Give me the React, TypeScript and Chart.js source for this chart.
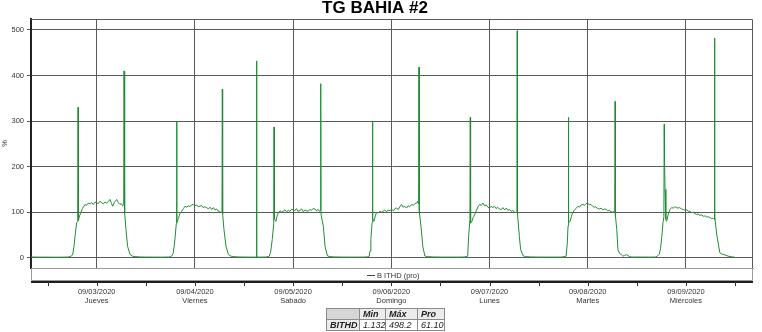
import React, { useEffect, useRef } from 'react';
import { Chart, registerables } from 'chart.js';

Chart.register(...registerables);

const TITLE = 'TG BAHIA #2';
const SERIES_LABEL = 'B ITHD (pro)';
const Y_TITLE = '%';

// x values are hours from 09/03/2020 00:00
const tickHours = [0, 24, 48, 72, 96, 120, 144];
const minorTickHours = [-12, 12, 36, 60, 84, 108, 132, 156];
const tickDates = ['09/03/2020', '09/04/2020', '09/05/2020', '09/06/2020', '09/07/2020', '09/08/2020', '09/09/2020'];
const tickDays = ['Jueves', 'Viernes', 'Sabado', 'Domingo', 'Lunes', 'Martes', 'Miércoles'];
const X_MIN = -16.06;
const X_MAX = 160.4;
const Y_MIN = -22.5;
const Y_MAX = 524;
const Y_STEP = 100;

const night1: [number, number][] = [
  [-16.06, 1.6], [-14.0, 1.4], [-12.0, 1.3], [-10.0, 1.132], [-8.0, 1.3], [-7.0, 1.6], [-6.5, 2.5], [-6.1, 4.5],
  [-5.85, 8], [-5.55, 25], [-5.3, 47], [-4.9, 77], [-4.63, 80], [-4.55, 330], [-4.47, 82], [-4.2, 92], [-3.9, 98],
  [-3.5, 108], [-2.86, 117], [-2.5, 115], [-2.05, 120], [-1.6, 118], [-1.2, 121], [-0.83, 117], [-0.4, 122],
  [0.0, 120], [0.4, 119], [0.8, 124], [1.2, 121], [1.6, 118], [2.0, 122], [2.44, 120], [2.8, 123],
  [3.25, 128], [3.6, 119], [3.91, 113], [4.3, 121], [4.6, 125], [4.89, 128], [5.3, 121], [5.7, 117],
  [6.0, 119], [6.35, 114], [6.6, 116], [6.68, 410], [6.76, 100], [6.9, 99], [7.15, 62], [7.55, 25], [8.15, 7],
  [8.7, 3.5], [9.4, 2.5], [10.5, 1.8], [12, 1.5], [14, 1.4], [16, 1.3],
];

const night2: [number, number][] = [
  [17.5, 1.5], [18.0, 2.2], [18.4, 4.5], [18.65, 9], [18.95, 26], [19.2, 48], [19.45, 75], [19.53, 300],
  [19.61, 77], [19.95, 86], [20.3, 96], [20.77, 102], [21.2, 108], [21.58, 113], [22.0, 111], [22.4, 114],
  [22.8, 112], [23.2, 116], [23.6, 117], [24.0, 114], [24.4, 116], [24.8, 112], [25.25, 113], [25.6, 115],
  [26.0, 110], [26.4, 112], [26.88, 110], [27.3, 107], [27.7, 111], [28.1, 106], [28.5, 110], [28.9, 105],
  [29.3, 107], [29.6, 103], [29.96, 102], [30.3, 100], [30.62, 99], [30.7, 370], [30.78, 96], [31.1, 62],
  [31.6, 25], [32.2, 7], [32.8, 3.5], [33.5, 2.4], [34.5, 1.8], [36, 1.5], [38, 1.4],
];

const night3: [number, number][] = [
  [38.95, 1.5], [39.05, 432], [39.15, 1.5], [40.0, 1.4], [41.0, 1.5], [41.6, 2.0], [42.18, 3.5], [42.5, 12],
  [42.9, 40], [43.27, 75], [43.35, 287], [43.43, 85], [43.8, 80], [44.1, 92], [44.4, 98], [44.8, 103],
  [45.2, 100], [45.6, 102], [46.0, 105], [46.4, 101], [46.8, 104], [47.2, 102], [47.6, 106], [48.0, 106],
  [48.4, 103], [48.8, 108], [49.2, 102], [49.7, 104], [50.1, 107], [50.5, 101], [50.9, 105], [51.3, 103],
  [51.7, 102], [52.1, 106], [52.5, 104], [52.9, 108], [53.35, 107], [53.7, 103], [54.1, 106], [54.4, 102],
  [54.67, 104], [54.75, 382], [54.83, 95], [55.4, 69], [55.8, 25], [56.4, 4], [57.0, 2.5], [58, 1.8],
  [60, 1.5], [62, 1.4],
];

const night4: [number, number][] = [
  [64, 1.4], [65.5, 1.5], [66.2, 2.2], [66.6, 3.5], [66.8, 15], [67.0, 40], [67.2, 65], [67.32, 77],
  [67.4, 298], [67.48, 85], [67.77, 80], [68.1, 92], [68.4, 100], [68.8, 98], [69.2, 102], [69.6, 100],
  [70.0, 102], [70.4, 105], [70.8, 101], [71.2, 104], [71.7, 104], [72.1, 106], [72.5, 103], [72.9, 108],
  [73.3, 109], [73.7, 106], [74.1, 112], [74.5, 117], [74.9, 111], [75.3, 113], [75.7, 109], [76.1, 114],
  [76.5, 112], [77.0, 117], [77.4, 115], [77.8, 119], [78.2, 120], [78.45, 124], [78.69, 118], [78.77, 418],
  [78.85, 100], [79.26, 69], [79.7, 25], [80.2, 4], [80.8, 2.5], [82, 1.8], [84, 1.5], [86, 1.4],
];

const night5: [number, number][] = [
  [88, 1.4], [89.5, 1.5], [90.2, 2.2], [90.67, 3.5], [90.9, 47], [91.22, 84], [91.3, 308], [91.38, 76],
  [91.7, 80], [92.0, 88], [92.4, 95], [92.8, 104], [93.2, 112], [93.6, 117], [94.0, 115], [94.4, 120],
  [94.8, 114], [95.2, 116], [95.6, 111], [96.0, 109], [96.4, 113], [96.8, 110], [97.2, 113], [97.6, 108],
  [98.0, 111], [98.4, 107], [98.9, 106], [99.3, 110], [99.7, 105], [100.1, 109], [100.5, 104], [100.9, 106],
  [101.3, 102], [101.7, 104], [102.0, 100], [102.3, 99], [102.69, 101], [102.77, 498.2], [102.85, 95], [103.3, 47],
  [103.6, 18], [104.26, 4], [104.8, 2.5], [106, 1.8], [108, 1.5], [110, 1.4],
];

const night6: [number, number][] = [
  [112, 1.4], [113.5, 1.5], [114.2, 2.2], [114.7, 3.5], [115.0, 30], [115.2, 70], [115.28, 308], [115.36, 78],
  [115.7, 80], [116.0, 90], [116.3, 99], [116.7, 104], [117.1, 108], [117.6, 113], [118.0, 111], [118.4, 116],
  [118.8, 117], [119.2, 115], [119.6, 119], [120.0, 120], [120.4, 116], [120.8, 117], [121.2, 113], [121.6, 111],
  [122.0, 112], [122.4, 108], [122.9, 107], [123.3, 109], [123.7, 105], [124.1, 107], [124.5, 106], [124.9, 103],
  [125.3, 104], [125.7, 101], [126.1, 100], [126.62, 102], [126.7, 343], [126.78, 92], [127.1, 62], [127.4, 18],
  [127.8, 9], [128.2, 7], [128.6, 3.5], [129.0, 5], [129.5, 7], [130.3, 2], [131, 1.6], [133, 1.5],
  [135, 1.4],
];

const night7: [number, number][] = [
  [136.5, 1.5], [137.0, 3.5], [137.5, 8], [137.8, 20], [138.1, 45], [138.4, 77], [138.62, 90], [138.7, 293],
  [138.78, 210], [138.9, 150], [139.1, 84], [139.3, 80], [139.6, 92], [140.1, 106], [140.5, 110], [140.9, 109],
  [141.3, 112], [141.7, 110], [142.1, 109], [142.5, 110], [142.9, 107], [143.4, 106], [143.8, 104], [144.2, 105],
  [144.6, 102], [145.0, 102], [145.4, 99], [145.8, 100], [146.2, 97], [146.6, 95], [147.0, 96], [147.4, 93],
  [147.8, 94], [148.3, 91], [148.7, 92], [149.1, 89], [149.5, 90], [149.9, 88], [150.3, 86], [150.6, 87],
  [150.92, 84], [151.0, 482], [151.08, 90], [151.6, 47], [152.3, 11], [152.8, 8], [153.3, 7], [154.3, 3.5],
  [155.2, 2], [155.9, 1.3],
];

const tableHead = ['Min', 'Máx', 'Pro'];
const tableRowName = 'BITHD';
const tableValues = ['1.132', '498.2', '61.10'];

const FONT = "'Liberation Sans', Arial, sans-serif";
const LINE_COLOR = 'rgb(34,140,52)';
const GRID_COLOR = '#5a5a5a';

const decorPlugin = {
  id: 'decor',
  afterDraw(chart: any) {
    const ctx = chart.ctx;
    const ca = chart.chartArea;
    const xs = chart.scales.x;
    ctx.save();
    // plot frame top and right
    ctx.strokeStyle = GRID_COLOR;
    ctx.lineWidth = 1;
    ctx.beginPath();
    ctx.moveTo(ca.left, ca.top + 0.5);
    ctx.lineTo(ca.right - 0.5, ca.top + 0.5);
    ctx.lineTo(ca.right - 0.5, ca.bottom);
    ctx.stroke();
    // legend band
    const bandTop = ca.bottom;
    const bandBottom = ca.bottom + 12;
    ctx.strokeStyle = '#9a9a9a';
    ctx.beginPath();
    ctx.moveTo(ca.left + 0.5, bandTop);
    ctx.lineTo(ca.left + 0.5, bandBottom + 0.5);
    ctx.lineTo(ca.right - 0.5, bandBottom + 0.5);
    ctx.lineTo(ca.right - 0.5, bandTop);
    ctx.stroke();
    // legend item
    const ly = bandTop + 7;
    ctx.font = `7.5px ${FONT}`;
    const lx = 367;
    ctx.strokeStyle = '#444';
    ctx.beginPath();
    ctx.moveTo(lx, ly + 0.5);
    ctx.lineTo(lx + 8, ly + 0.5);
    ctx.stroke();
    ctx.fillStyle = '#333';
    ctx.textBaseline = 'middle';
    ctx.textAlign = 'left';
    ctx.fillText(SERIES_LABEL, lx + 10, ly + 0.5);
    // thick axis line
    const axisY = bandBottom + 2;
    ctx.strokeStyle = '#1e1e1e';
    ctx.lineWidth = 2;
    ctx.beginPath();
    ctx.moveTo(ca.left, axisY);
    ctx.lineTo(ca.right, axisY);
    ctx.stroke();
    // tick marks
    ctx.lineWidth = 1;
    ctx.strokeStyle = '#333';
    const allTicks = tickHours.concat(minorTickHours);
    allTicks.forEach((h) => {
      const px = Math.round(xs.getPixelForValue(h)) + 0.5;
      if (px < ca.left || px > ca.right) return;
      ctx.beginPath();
      ctx.moveTo(px, axisY);
      ctx.lineTo(px, axisY + 4);
      ctx.stroke();
    });
    // title
    ctx.fillStyle = '#000';
    ctx.font = `bold 17px ${FONT}`;
    ctx.textAlign = 'center';
    ctx.textBaseline = 'middle';
    ctx.fillText(TITLE, 375, 8);
    ctx.restore();
  },
};

export default function App() {
  const canvasRef = useRef<HTMLCanvasElement | null>(null);

  useEffect(() => {
    const canvas = canvasRef.current;
    if (!canvas) return;
    const points = [...night1, ...night2, ...night3, ...night4, ...night5, ...night6, ...night7].map(
      ([x, y]) => ({ x, y })
    );
    const chart = new Chart(canvas, {
      type: 'line',
      data: {
        datasets: [
          {
            label: SERIES_LABEL,
            data: points,
            borderColor: LINE_COLOR,
            backgroundColor: LINE_COLOR,
            borderWidth: 1,
            pointRadius: 0,
            tension: 0,
            fill: false,
          },
        ],
      },
      options: {
        animation: false,
        responsive: false,
        maintainAspectRatio: false,
        layout: { padding: { left: 0, top: 19, right: 9, bottom: 0 } },
        plugins: {
          legend: { display: false },
          title: { display: false },
          tooltip: { enabled: false },
        },
        scales: {
          x: {
            type: 'linear',
            position: 'bottom',
            min: X_MIN,
            max: X_MAX,
            afterBuildTicks: (scale: any) => {
              scale.ticks = tickHours.map((v) => ({ value: v }));
            },
            afterFit: (scale: any) => {
              scale.height = 64;
            },
            grid: { color: GRID_COLOR, lineWidth: 1, drawTicks: false, drawOnChartArea: true },
            border: { display: true, color: '#9a9a9a', width: 1 },
            ticks: {
              autoSkip: false,
              maxRotation: 0,
              padding: 19,
              color: '#333',
              font: { family: FONT, size: 7.5, lineHeight: 1.2 },
              callback: (value: any) => {
                const i = tickHours.indexOf(Number(value));
                return i >= 0 ? [tickDates[i], tickDays[i]] : '';
              },
            },
          },
          y: {
            type: 'linear',
            min: Y_MIN,
            max: Y_MAX,
            afterFit: (scale: any) => {
              scale.width = 31;
            },
            grid: { color: GRID_COLOR, lineWidth: 1, tickLength: 4, drawTicks: true },
            border: { display: true, color: '#222', width: 2 },
            ticks: {
              stepSize: Y_STEP,
              includeBounds: false,
              padding: 3,
              color: '#333',
              font: { family: FONT, size: 7.5 },
            },
            title: {
              display: true,
              text: Y_TITLE,
              color: '#333',
              padding: 0,
              font: { family: FONT, size: 7.5 },
            },
          },
        },
      },
      plugins: [decorPlugin],
    });
    return () => chart.destroy();
  }, []);

  const cellBase: React.CSSProperties = {
    border: '1px solid #8a8a8a',
    padding: '0 2px 0 3px',
    height: 10,
    lineHeight: '10px',
    fontFamily: FONT,
    fontSize: 9,
    fontStyle: 'italic',
    color: '#222',
    textAlign: 'left',
    whiteSpace: 'nowrap',
  };

  return (
    <div style={{ position: 'absolute', left: 0, top: 0, width: 762, height: 332, background: '#fff' }}>
      <canvas ref={canvasRef} width={762} height={332} style={{ width: 762, height: 332, display: 'block' }} />
      <table
        style={{
          position: 'absolute',
          left: 326,
          top: 308,
          borderCollapse: 'collapse',
          tableLayout: 'fixed',
          width: 118,
        }}
      >
        <colgroup>
          <col style={{ width: 33 }} />
          <col style={{ width: 26 }} />
          <col style={{ width: 32 }} />
          <col style={{ width: 27 }} />
        </colgroup>
        <tbody>
          <tr>
            <td style={{ ...cellBase, background: '#d6d6d6' }}></td>
            {tableHead.map((h) => (
              <td key={h} style={{ ...cellBase, background: '#ececec', fontWeight: 'bold' }}>
                {h}
              </td>
            ))}
          </tr>
          <tr>
            <td style={{ ...cellBase, background: '#ececec', fontWeight: 'bold' }}>{tableRowName}</td>
            {tableValues.map((v) => (
              <td key={v} style={{ ...cellBase, background: '#fff' }}>
                {v}
              </td>
            ))}
          </tr>
        </tbody>
      </table>
    </div>
  );
}
